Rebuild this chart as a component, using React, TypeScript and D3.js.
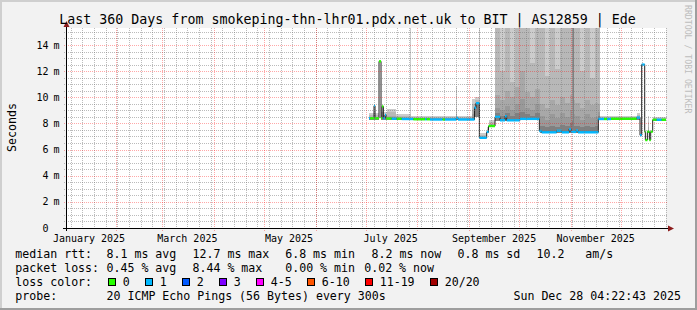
import React, { useEffect } from "react";
import * as d3 from "d3";

// ---------- text / labels ----------
const chartTitle = "Last 360 Days from smokeping-thn-lhr01.pdx.net.uk to BIT | AS12859 | Ede";
const yAxisTitle = "Seconds";
const watermark = "RRDTOOL / TOBI OETIKER";
const yMajorTicks = [0, 2, 4, 6, 8, 10, 12, 14];
const yUnitLabel = "m";
const monthLabels = ["January 2025", "March 2025", "May 2025", "July 2025", "September 2025", "November 2025"];
const monthLabelIndex = [0, 2, 4, 6, 8, 10];
const lossClasses = ["0", "1", "2", "3", "4-5", "6-10", "11-19", "20/20"];
const medianStats = ["8.1 ms avg", "12.7 ms max", "6.8 ms min", "8.2 ms now", "0.8 ms sd", "10.2   am/s"];
const lossStats = ["0.45 % avg", "8.44 % max", "0.00 % min", "0.02 % now"];
const probeText = "20 ICMP Echo Pings (56 Bytes) every 300s";
const stampText = "Sun Dec 28 04:22:43 2025";

// ---------- data (day of year 2025 since Jan 1 00:00 UTC, ms) ----------
// median steps: [startDay, medianMs, lossClassIndex]
const medianSteps: [number, number, number][] = [
  [183.0, 8.40, 1], [183.6, 8.40, 0], [186.0, 9.35, 1], [186.6, 8.40, 0],
  [189.0, 12.75, 0], [190.2, 8.40, 0], [190.8, 9.30, 0], [191.6, 8.40, 1],
  [192.6, 8.65, 1], [193.2, 8.38, 0], [196.6, 8.36, 1], [199.6, 8.36, 0],
  [202.6, 8.34, 1], [209.6, 8.32, 0], [216.6, 8.32, 1], [217.6, 8.32, 0],
  [219.6, 8.30, 1], [227.2, 8.30, 0], [228.6, 8.30, 1], [235.2, 8.42, 1],
  [236.4, 8.30, 1], [246.3, 9.20, 1], [247.2, 9.55, 1], [249.2, 6.90, 1],
  [253.6, 7.35, 1], [254.7, 7.80, 0], [258.6, 8.50, 1], [261.6, 8.24, 1],
  [264.6, 8.55, 1], [265.6, 8.24, 1], [273.6, 8.35, 1], [285.2, 7.42, 1],
  [286.6, 7.32, 1], [295.6, 7.44, 1], [298.6, 7.32, 1], [303.0, 7.55, 1],
  [304.2, 7.35, 1], [307.2, 7.46, 1], [308.4, 7.32, 1], [320.6, 8.34, 1],
  [324.0, 8.34, 0], [325.8, 8.34, 1], [328.2, 8.36, 0], [343.6, 8.45, 1],
  [345.6, 7.10, 1], [346.6, 12.50, 1], [348.4, 7.37, 0], [348.8, 6.73, 0],
  [350.0, 7.37, 0], [351.2, 6.73, 0], [352.0, 7.37, 0], [353.2, 8.28, 0],
  [355.6, 8.28, 1], [358.6, 8.28, 0],
];
const medianEndDay = 361.2;

// smoke bands: [startDay, endDay, low, outer, l2, l3, l4, inner]
const smokeSummer: number[][] = [
  [183.0, 189.0, 8.28, 8.80, 8.62, 8.52, 8.46, 8.42],
  [190.2, 194.0, 8.28, 8.85, 8.65, 8.52, 8.46, 8.42],
  [194.0, 199.0, 8.28, 9.10, 8.85, 8.60, 8.48, 8.42],
  [199.0, 207.4, 8.26, 8.70, 8.58, 8.50, 8.44, 8.40],
  [207.4, 208.0, 8.26, 16.0, 8.70, 8.50, 8.44, 8.40],
  [208.0, 235.0, 8.24, 8.58, 8.48, 8.42, 8.38, 8.35],
  [235.0, 235.6, 8.24, 10.9, 9.20, 8.70, 8.50, 8.40],
  [235.6, 244.8, 8.24, 8.55, 8.46, 8.40, 8.36, 8.34],
  [244.8, 246.3, 8.24, 9.90, 9.50, 9.00, 8.70, 8.50],
  [246.3, 249.0, 8.50, 10.0, 9.80, 9.60, 9.50, 9.45],
  [249.0, 249.6, 8.30, 16.0, 10.0, 9.50, 9.00, 8.00],
  [249.6, 253.6, 6.85, 7.30, 7.12, 7.02, 6.96, 6.92],
  [253.6, 254.7, 7.30, 7.75, 7.55, 7.45, 7.40, 7.37],
  [254.7, 258.6, 7.75, 8.30, 8.10, 7.95, 7.88, 7.84],
];
const smokeAutumn: number[][] = [
  [258.6, 261.6, 8.20, 16, 16.0, 10.2, 9.2, 8.8],
  [261.6, 264.6, 8.20, 16, 12.0, 9.8, 9.0, 8.6],
  [264.6, 267.6, 8.20, 16, 16.0, 10.5, 9.3, 8.8],
  [267.6, 270.6, 8.20, 16, 11.2, 10.0, 9.0, 8.6],
  [270.6, 273.6, 8.20, 16, 16.0, 10.8, 9.5, 8.8],
  [273.6, 276.6, 8.30, 16, 16.0, 12.0, 9.9, 8.9],
  [276.6, 279.6, 8.30, 16, 16.0, 10.4, 9.2, 8.7],
  [279.6, 282.6, 8.30, 16, 12.6, 10.0, 9.0, 8.6],
  [282.6, 285.6, 8.30, 16, 16.0, 10.6, 9.5, 8.8],
  [285.6, 288.6, 7.28, 16, 16.0, 9.5, 8.6, 7.8],
  [288.6, 291.6, 7.28, 16, 11.6, 9.2, 8.3, 7.7],
  [291.6, 294.6, 7.28, 16, 16.0, 9.8, 8.7, 7.8],
  [294.6, 297.6, 7.28, 16, 12.2, 9.4, 8.4, 7.7],
  [297.6, 300.6, 7.28, 16, 16.0, 10.0, 8.8, 7.9],
  [300.6, 303.6, 7.28, 16, 16.0, 9.6, 8.5, 7.8],
  [303.6, 305.0, 7.28, 16, 16.0, 10.2, 9.0, 8.0],
  [305.0, 305.3, 7.28, 16, 16.0, 16.0, 16.0, 8.2],
  [305.3, 305.9, 7.28, 16, 16.0, 16.0, 16.0, 16.0],
  [305.9, 306.6, 7.28, 16, 16.0, 9.8, 8.7, 7.8],
  [306.6, 309.6, 7.28, 16, 16.0, 9.6, 8.6, 7.8],
  [309.6, 312.6, 7.28, 16, 12.0, 9.2, 8.3, 7.7],
  [312.6, 315.6, 7.28, 16, 16.0, 9.8, 8.7, 7.8],
  [315.6, 318.6, 7.28, 16, 11.5, 9.4, 8.4, 7.7],
  [318.6, 320.6, 7.28, 16, 16.0, 9.6, 8.5, 7.8],
  [320.6, 321.6, 8.30, 16, 16.0, 9.5, 8.9, 8.6],
];
const smokeWinter: number[][] = [
  [321.6, 343.6, 8.26, 8.60, 8.50, 8.44, 8.40, 8.38],
  [343.6, 345.6, 8.30, 8.80, 8.62, 8.52, 8.48, 8.46],
  [350.4, 351.0, 7.30, 8.60, 8.10, 7.70, 7.50, 7.40],
  [353.2, 361.2, 8.22, 8.52, 8.42, 8.36, 8.32, 8.30],
];

// ---------- styles ----------
const lossColors = ["#26ff00", "#00b8ff", "#0059ff", "#7e00ff", "#ff00ff", "#ff5500", "#ff0000", "#a10000"];
const smokeColors = ["#cccccc", "#b8b8b8", "#a8a8a8", "#999999", "#808080"];
const FONT = "'DejaVu Sans Mono', monospace";
const W = 697;
const H = 310;
const PL = 66, PR = 666, PT = 28, PB = 228;

const DAY = 86400000;
const T0 = Date.UTC(2025, 0, 1);
const startT = new Date(Date.UTC(2025, 0, 2, 4, 22, 43));
const endT = new Date(Date.UTC(2025, 11, 28, 4, 22, 43));

export default function App() {
  useEffect(() => {
    document.body.style.margin = "0";
  }, []);

  const x = d3.scaleUtc().domain([startT, endT]).range([PL, PR]);
  const y = d3.scaleLinear().domain([0, 15.3]).range([PB, PT]);
  const dx = (d: number) => x(new Date(T0 + d * DAY));
  const yc = (v: number) => y(Math.min(v, 15.3));

  const sundays = d3.utcSunday.range(startT, endT);
  const months = d3.utcMonth.range(startT, endT);
  const minorY = d3.range(1, 31).map((i) => i * 0.5).filter((v) => v % 2 !== 0 && v <= 15.3);
  const labelMonths = monthLabelIndex.map((m) => new Date(Date.UTC(2025, m, 1) + 15 * DAY));

  const smoke = [...smokeSummer, ...smokeAutumn, ...smokeWinter];

  const medPts: [number, number][] = medianSteps.map((s) => [s[0], s[1]]);
  medPts.push([medianEndDay, medianSteps[medianSteps.length - 1][1]]);
  const medLine = d3
    .line<[number, number]>()
    .x((p) => dx(p[0]))
    .y((p) => y(p[1]))
    .curve(d3.curveStepAfter)(medPts);

  let lx = 108.5;
  const lossItems = lossClasses.map((c, i) => {
    const bx = lx;
    const tx = bx + 14.2;
    lx = tx + c.length * 7.0 + 15.8;
    return { c, bx, tx, color: lossColors[i] };
  });
  const statX = [106.5, 192.5, 285.2, 371.5, 457.5, 536.5];
  const lossX = [106.5, 192.5, 285.2, 364.2];

  const minorColor = "rgba(120,120,120,0.5)";
  const majorColor = "rgba(255,0,0,0.34)";

  return (
    <svg
      width={W}
      height={H}
      viewBox={`0 0 ${W} ${H}`}
      style={{ display: "block", position: "absolute", left: 0, top: 0 }}
      fontFamily={FONT}
    >
      <defs>
        <clipPath id="plotclip">
          <rect x={PL} y={PT} width={PR - PL} height={PB - PT} />
        </clipPath>
        <pattern id="hMinor" x={0} y={0} width={2} height={2} patternUnits="userSpaceOnUse">
          <rect x={0} y={0} width={1} height={2} fill={minorColor} />
        </pattern>
        <pattern id="hMajor" x={0} y={0} width={2} height={2} patternUnits="userSpaceOnUse">
          <rect x={0} y={0} width={1} height={2} fill={majorColor} />
        </pattern>
        <pattern id="vMinor" x={0} y={0} width={2} height={2} patternUnits="userSpaceOnUse">
          <rect x={0} y={0} width={2} height={1} fill={minorColor} />
        </pattern>
        <pattern id="vMajor" x={0} y={0} width={2} height={2} patternUnits="userSpaceOnUse">
          <rect x={0} y={0} width={2} height={1} fill={majorColor} />
        </pattern>
      </defs>
      <rect x={0} y={0} width={W} height={H} fill="#f2f2f2" />
      <rect x={0} y={0} width={W} height={2} fill="#cfcfcf" />
      <rect x={0} y={0} width={2} height={H} fill="#cfcfcf" />
      <rect x={0} y={H - 2} width={W} height={2} fill="#9e9e9e" />
      <rect x={W - 2} y={0} width={2} height={H} fill="#9e9e9e" />

      <rect x={PL} y={PT} width={PR - PL} height={PB - PT} fill="#ffffff" />

      <g clipPath="url(#plotclip)">
        {smoke.map((s, i) => {
          const x0 = dx(s[0]);
          const x1 = dx(s[1]);
          return (
            <g key={"s" + i}>
              {[3, 4, 5, 6, 7].map((k, j) =>
                s[k] > s[2] ? (
                  <rect
                    key={k}
                    x={x0}
                    width={Math.max(0.6, x1 - x0)}
                    y={yc(s[k])}
                    height={y(s[2]) - yc(s[k])}
                    fill={smokeColors[j]}
                    shapeRendering="crispEdges"
                  />
                ) : null
              )}
            </g>
          );
        })}
        <path d={medLine || ""} fill="none" stroke="#202020" strokeWidth={1} />
        {medianSteps.map((s, i) => {
          const next = i + 1 < medianSteps.length ? medianSteps[i + 1][0] : medianEndDay;
          const x0 = dx(s[0]);
          const x1 = dx(next);
          return (
            <rect
              key={"m" + i}
              x={x0}
              width={x1 - x0}
              y={y(s[1]) - 1.2}
              height={2.4}
              fill={lossColors[s[2]]}
            />
          );
        })}
      </g>

      <g shapeRendering="crispEdges">
        {minorY.map((v) => (
          <rect key={"hy" + v} x={PL - 2} y={Math.round(y(v))} width={PR - PL + 4} height={1} fill="url(#hMinor)" />
        ))}
        {sundays.map((d) => (
          <rect key={"vx" + d.getTime()} x={Math.round(x(d))} y={PT} width={1} height={PB - PT + 2} fill="url(#vMinor)" />
        ))}
        {yMajorTicks.filter((v) => v > 0).map((v) => (
          <rect key={"HY" + v} x={PL - 3} y={Math.round(y(v))} width={PR - PL + 5} height={1} fill="url(#hMajor)" />
        ))}
        {months.map((d) => (
          <rect key={"VX" + d.getTime()} x={Math.round(x(d))} y={PT} width={1} height={PB - PT + 3} fill="url(#vMajor)" />
        ))}
        <rect x={PL - 3} y={PB} width={PR - PL + 5} height={1} fill="#000" />
        <rect x={PL} y={PT - 2} width={1} height={PB - PT + 5} fill="#000" />
      </g>

      <path d={`M${PR + 2},${PB - 2.5} L${PR + 8},${PB + 0.5} L${PR + 2},${PB + 3.5} Z`} fill="#8c1c1c" />
      <path d={`M${PL - 2.5},${PT - 1} L${PL + 0.5},${PT - 7} L${PL + 3.5},${PT - 1} Z`} fill="#8c1c1c" />

      <g fontSize={10} fill="#000">
        {yMajorTicks.map((v) => (
          <g key={"yl" + v}>
            <text x={48.6} y={y(v) + 3.6} textAnchor="end">
              {d3.format("d")(v)}
            </text>
            {v > 0 ? (
              <text x={53.6} y={y(v) + 3.6}>
                {yUnitLabel}
              </text>
            ) : null}
          </g>
        ))}
        {labelMonths.map((d, i) => (
          <text key={"xl" + i} x={x(d)} y={241.5} textAnchor="middle">
            {monthLabels[i]}
          </text>
        ))}
      </g>

      <text x={347.5} y={23.5} fontSize={13.3} textAnchor="middle" fill="#000">
        {chartTitle}
      </text>
      <text transform="translate(15.5,127.5) rotate(-90)" fontSize={11.6} textAnchor="middle" fill="#000">
        {yAxisTitle}
      </text>
      <text transform="translate(684.5,5) rotate(90)" fontSize={8.2} fill="#bdbdbd">
        {watermark}
      </text>

      <g fontSize={11.6} fill="#000" style={{ whiteSpace: "pre" }}>
        <text x={15.3} y={258.3}>median rtt:</text>
        {medianStats.map((s, i) => (
          <text key={"ms" + i} x={statX[i]} y={258.3} xmlSpace="preserve">
            {s}
          </text>
        ))}
        <text x={15.3} y={272.3}>packet loss:</text>
        {lossStats.map((s, i) => (
          <text key={"ls" + i} x={lossX[i]} y={272.3}>
            {s}
          </text>
        ))}
        <text x={15.3} y={286.2}>loss color:</text>
        {lossItems.map((it) => (
          <g key={"li" + it.c}>
            <rect x={it.bx} y={278.5} width={7} height={7} fill={it.color} stroke="#000" strokeWidth={1} />
            <text x={it.tx} y={286.2}>
              {it.c}
            </text>
          </g>
        ))}
        <text x={15.3} y={300}>probe:</text>
        <text x={106.5} y={300}>{probeText}</text>
        <text x={681} y={300} textAnchor="end">
          {stampText}
        </text>
      </g>
    </svg>
  );
}
